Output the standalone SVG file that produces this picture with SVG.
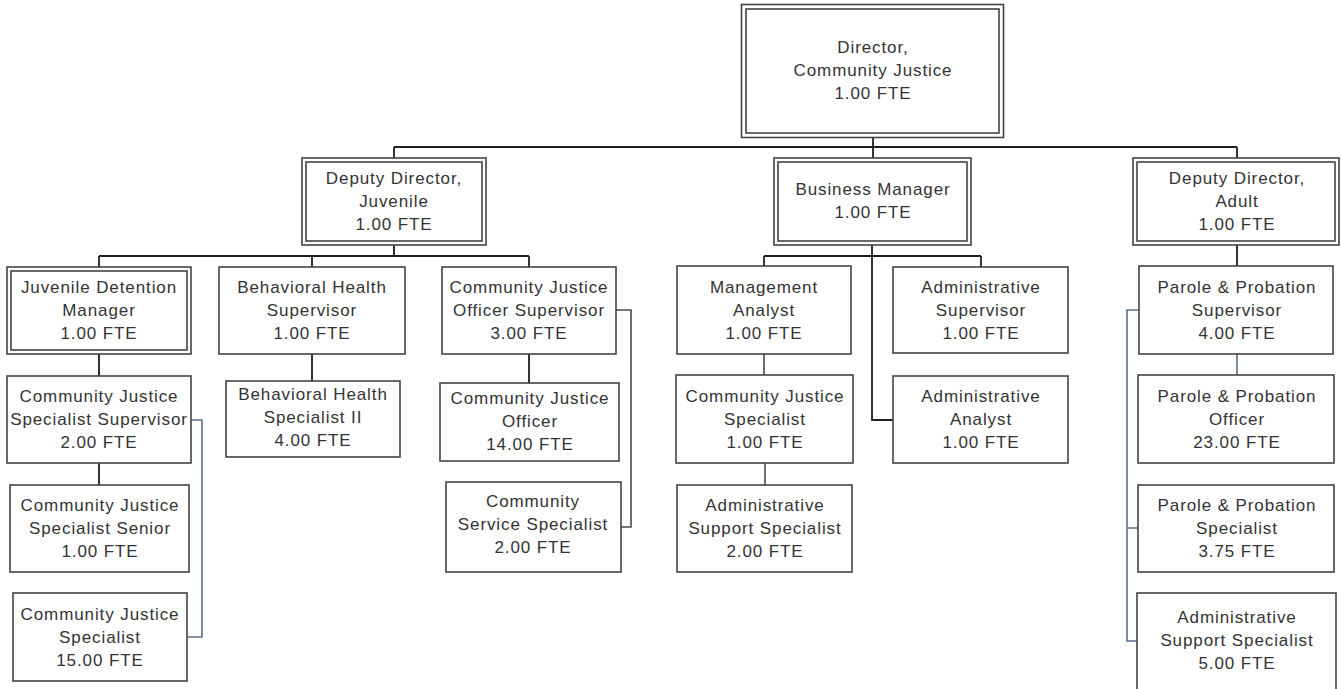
<svg xmlns="http://www.w3.org/2000/svg" width="1341" height="689" viewBox="0 0 1341 689">
  <style>
    .box { fill: #ffffff; stroke: #444444; stroke-width: 1.6; }
    .inner { fill: none; stroke: #444444; stroke-width: 1.6; }
    .lbl { font-family: "Liberation Sans", Arial, sans-serif; font-size: 17px; fill: #333333; text-anchor: middle; letter-spacing: 0.9px; }
    .wire { fill: none; stroke: #1e1e1e; stroke-width: 1.8; }
    .wire-grey { fill: none; stroke: #4a4a4a; stroke-width: 1.6; }
    .wire-blue { fill: none; stroke: #5b6f8d; stroke-width: 1.6; }
  </style>
  <rect width="1341" height="689" fill="#ffffff"/>

  <!-- reporting lines -->
  <g id="connectors">
    <!-- director to deputies / business manager -->
    <path class="wire" d="M873,137 V147 M394,147 H1237 M394,147 V158 M873,147 V158 M1237,147 V158"/>
    <!-- juvenile division -->
    <path class="wire" d="M394,245 V256 M99,256 H529 M99,256 V267 M312,256 V267 M529,256 V267"/>
    <path class="wire" d="M99,354 V376 M99,463 V485"/>
    <path class="wire" d="M312,354 V381"/>
    <path class="wire" d="M529,354 V383"/>
    <path class="wire-blue" d="M191,420 H202 V637 H187"/>
    <path class="wire-grey" d="M616,310 H631 V527 H621"/>
    <!-- business services -->
    <path class="wire" d="M872,245 V420 H893 M764,256 H981 M764,256 V266 M981,256 V267"/>
    <path class="wire-grey" d="M764,354 V375 M765,463 V485"/>
    <!-- adult division -->
    <path class="wire" d="M1237,245 V266"/>
    <path class="wire-blue" d="M1237,354 V375"/>
    <path class="wire-blue" d="M1139,310 H1127 V641 H1137 M1127,528 H1138"/>
  </g>

  <!-- leadership -->
  <g id="director">
    <rect class="box" x="741.5" y="4.5" width="262" height="133"/>
    <rect class="inner" x="746" y="9" width="253" height="124"/>
    <text class="lbl" x="873" y="53">Director,</text>
    <text class="lbl" x="873" y="76">Community Justice</text>
    <text class="lbl" x="873" y="99">1.00 FTE</text>
  </g>
  <g id="deputy-juvenile">
    <rect class="box" x="302" y="158" width="184" height="87"/>
    <rect class="inner" x="306" y="162" width="176" height="79"/>
    <text class="lbl" x="394" y="184">Deputy Director,</text>
    <text class="lbl" x="394" y="207">Juvenile</text>
    <text class="lbl" x="394" y="230">1.00 FTE</text>
  </g>
  <g id="business-manager">
    <rect class="box" x="774" y="158" width="197" height="87"/>
    <rect class="inner" x="778" y="162" width="189" height="79"/>
    <text class="lbl" x="873" y="195">Business Manager</text>
    <text class="lbl" x="873" y="218">1.00 FTE</text>
  </g>
  <g id="deputy-adult">
    <rect class="box" x="1133" y="158" width="206" height="87"/>
    <rect class="inner" x="1137" y="162" width="198" height="79"/>
    <text class="lbl" x="1237" y="184">Deputy Director,</text>
    <text class="lbl" x="1237" y="207">Adult</text>
    <text class="lbl" x="1237" y="230">1.00 FTE</text>
  </g>

  <!-- juvenile division -->
  <g id="juvenile-detention-manager">
    <rect class="box" x="7" y="267" width="184" height="87"/>
    <rect class="inner" x="11" y="271" width="176" height="79"/>
    <text class="lbl" x="99" y="293">Juvenile Detention</text>
    <text class="lbl" x="99" y="316">Manager</text>
    <text class="lbl" x="99" y="339">1.00 FTE</text>
  </g>
  <g id="behavioral-health-supervisor">
    <rect class="box" x="219" y="267" width="186" height="87"/>
    <text class="lbl" x="312" y="293">Behavioral Health</text>
    <text class="lbl" x="312" y="316">Supervisor</text>
    <text class="lbl" x="312" y="339">1.00 FTE</text>
  </g>
  <g id="cj-officer-supervisor">
    <rect class="box" x="442" y="267" width="174" height="87"/>
    <text class="lbl" x="529" y="293">Community Justice</text>
    <text class="lbl" x="529" y="316">Officer Supervisor</text>
    <text class="lbl" x="529" y="339">3.00 FTE</text>
  </g>
  <g id="cj-specialist-supervisor">
    <rect class="box" x="7" y="376" width="184" height="87"/>
    <text class="lbl" x="99" y="402">Community Justice</text>
    <text class="lbl" x="99" y="425">Specialist Supervisor</text>
    <text class="lbl" x="99" y="448">2.00 FTE</text>
  </g>
  <g id="behavioral-health-specialist">
    <rect class="box" x="226" y="381" width="174" height="76"/>
    <text class="lbl" x="313" y="400">Behavioral Health</text>
    <text class="lbl" x="313" y="423">Specialist II</text>
    <text class="lbl" x="313" y="446">4.00 FTE</text>
  </g>
  <g id="cj-officer">
    <rect class="box" x="440" y="383" width="179" height="78"/>
    <text class="lbl" x="530" y="404">Community Justice</text>
    <text class="lbl" x="530" y="427">Officer</text>
    <text class="lbl" x="530" y="450">14.00 FTE</text>
  </g>
  <g id="cj-specialist-senior">
    <rect class="box" x="10" y="485" width="179" height="87"/>
    <text class="lbl" x="100" y="511">Community Justice</text>
    <text class="lbl" x="100" y="534">Specialist Senior</text>
    <text class="lbl" x="100" y="557">1.00 FTE</text>
  </g>
  <g id="community-service-specialist">
    <rect class="box" x="446" y="482" width="175" height="90"/>
    <text class="lbl" x="533" y="507">Community</text>
    <text class="lbl" x="533" y="530">Service Specialist</text>
    <text class="lbl" x="533" y="553">2.00 FTE</text>
  </g>
  <g id="cj-specialist-juvenile">
    <rect class="box" x="13" y="593" width="174" height="88"/>
    <text class="lbl" x="100" y="620">Community Justice</text>
    <text class="lbl" x="100" y="643">Specialist</text>
    <text class="lbl" x="100" y="666">15.00 FTE</text>
  </g>

  <!-- business services -->
  <g id="management-analyst">
    <rect class="box" x="677" y="266" width="174" height="88"/>
    <text class="lbl" x="764" y="293">Management</text>
    <text class="lbl" x="764" y="316">Analyst</text>
    <text class="lbl" x="764" y="339">1.00 FTE</text>
  </g>
  <g id="administrative-supervisor">
    <rect class="box" x="893" y="267" width="175" height="86"/>
    <text class="lbl" x="981" y="293">Administrative</text>
    <text class="lbl" x="981" y="316">Supervisor</text>
    <text class="lbl" x="981" y="339">1.00 FTE</text>
  </g>
  <g id="cj-specialist-business">
    <rect class="box" x="676" y="375" width="177" height="88"/>
    <text class="lbl" x="765" y="402">Community Justice</text>
    <text class="lbl" x="765" y="425">Specialist</text>
    <text class="lbl" x="765" y="448">1.00 FTE</text>
  </g>
  <g id="administrative-analyst">
    <rect class="box" x="893" y="376" width="175" height="87"/>
    <text class="lbl" x="981" y="402">Administrative</text>
    <text class="lbl" x="981" y="425">Analyst</text>
    <text class="lbl" x="981" y="448">1.00 FTE</text>
  </g>
  <g id="admin-support-business">
    <rect class="box" x="677" y="485" width="175" height="87"/>
    <text class="lbl" x="765" y="511">Administrative</text>
    <text class="lbl" x="765" y="534">Support Specialist</text>
    <text class="lbl" x="765" y="557">2.00 FTE</text>
  </g>

  <!-- adult division -->
  <g id="pp-supervisor">
    <rect class="box" x="1139" y="266" width="194" height="88"/>
    <text class="lbl" x="1237" y="293">Parole &amp; Probation</text>
    <text class="lbl" x="1237" y="316">Supervisor</text>
    <text class="lbl" x="1237" y="339">4.00 FTE</text>
  </g>
  <g id="pp-officer">
    <rect class="box" x="1138" y="375" width="196" height="88"/>
    <text class="lbl" x="1237" y="402">Parole &amp; Probation</text>
    <text class="lbl" x="1237" y="425">Officer</text>
    <text class="lbl" x="1237" y="448">23.00 FTE</text>
  </g>
  <g id="pp-specialist">
    <rect class="box" x="1138" y="485" width="196" height="87"/>
    <text class="lbl" x="1237" y="511">Parole &amp; Probation</text>
    <text class="lbl" x="1237" y="534">Specialist</text>
    <text class="lbl" x="1237" y="557">3.75 FTE</text>
  </g>
  <g id="admin-support-adult">
    <rect class="box" x="1137" y="593" width="199" height="110"/>
    <text class="lbl" x="1237" y="623">Administrative</text>
    <text class="lbl" x="1237" y="646">Support Specialist</text>
    <text class="lbl" x="1237" y="669">5.00 FTE</text>
  </g>
</svg>
